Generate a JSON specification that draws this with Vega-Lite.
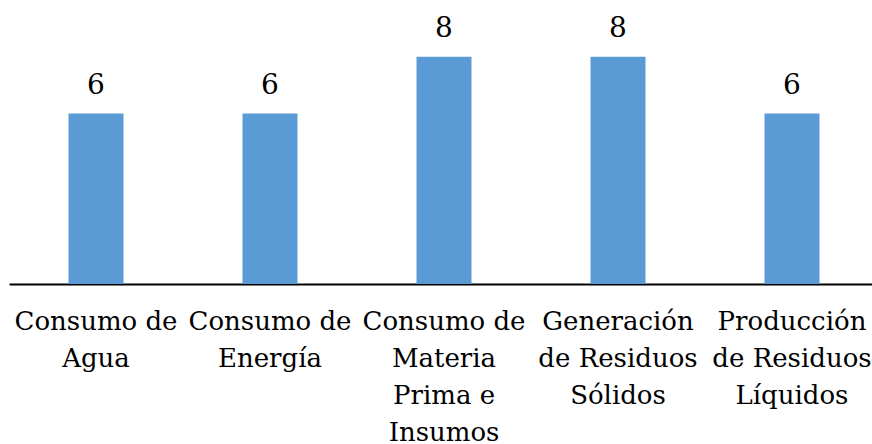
{
  "$schema": "https://vega.github.io/schema/vega-lite/v6.json",
  "width": 870,
  "height": 284,
  "autosize": {"type": "none"},
  "padding": {"left": 9, "top": 0, "right": 0, "bottom": 160},
  "background": "white",
  "config": {"view": {"stroke": null}, "font": "DejaVu Serif"},
  "data": {
    "values": [
      {"categoria": "Consumo de|Agua", "valor": 6},
      {"categoria": "Consumo de|Energía", "valor": 6},
      {"categoria": "Consumo de|Materia|Prima e|Insumos", "valor": 8},
      {"categoria": "Generación|de Residuos|Sólidos", "valor": 8},
      {"categoria": "Producción|de Residuos|Líquidos", "valor": 6}
    ]
  },
  "encoding": {
    "x": {
      "field": "categoria",
      "type": "nominal",
      "sort": null,
      "scale": {"paddingInner": 0.684, "paddingOuter": 0.342},
      "axis": {
        "title": null,
        "labelAngle": 0,
        "labelExpr": "split(datum.value, '|')",
        "labelFont": "DejaVu Serif",
        "labelFontSize": 26,
        "labelLineHeight": 37,
        "labelColor": "black",
        "labelPadding": 24,
        "ticks": false,
        "domainColor": "black",
        "domainWidth": 2,
        "labelLimit": 0
      }
    },
    "y": {
      "field": "valor",
      "type": "quantitative",
      "scale": {"domain": [0, 10]},
      "axis": null
    }
  },
  "layer": [
    {"mark": {"type": "bar", "color": "#5B9BD5"}},
    {
      "mark": {"type": "text", "baseline": "alphabetic", "dy": -20, "fontSize": 28, "font": "DejaVu Serif", "color": "black"},
      "encoding": {"text": {"field": "valor", "type": "quantitative"}}
    }
  ]
}
